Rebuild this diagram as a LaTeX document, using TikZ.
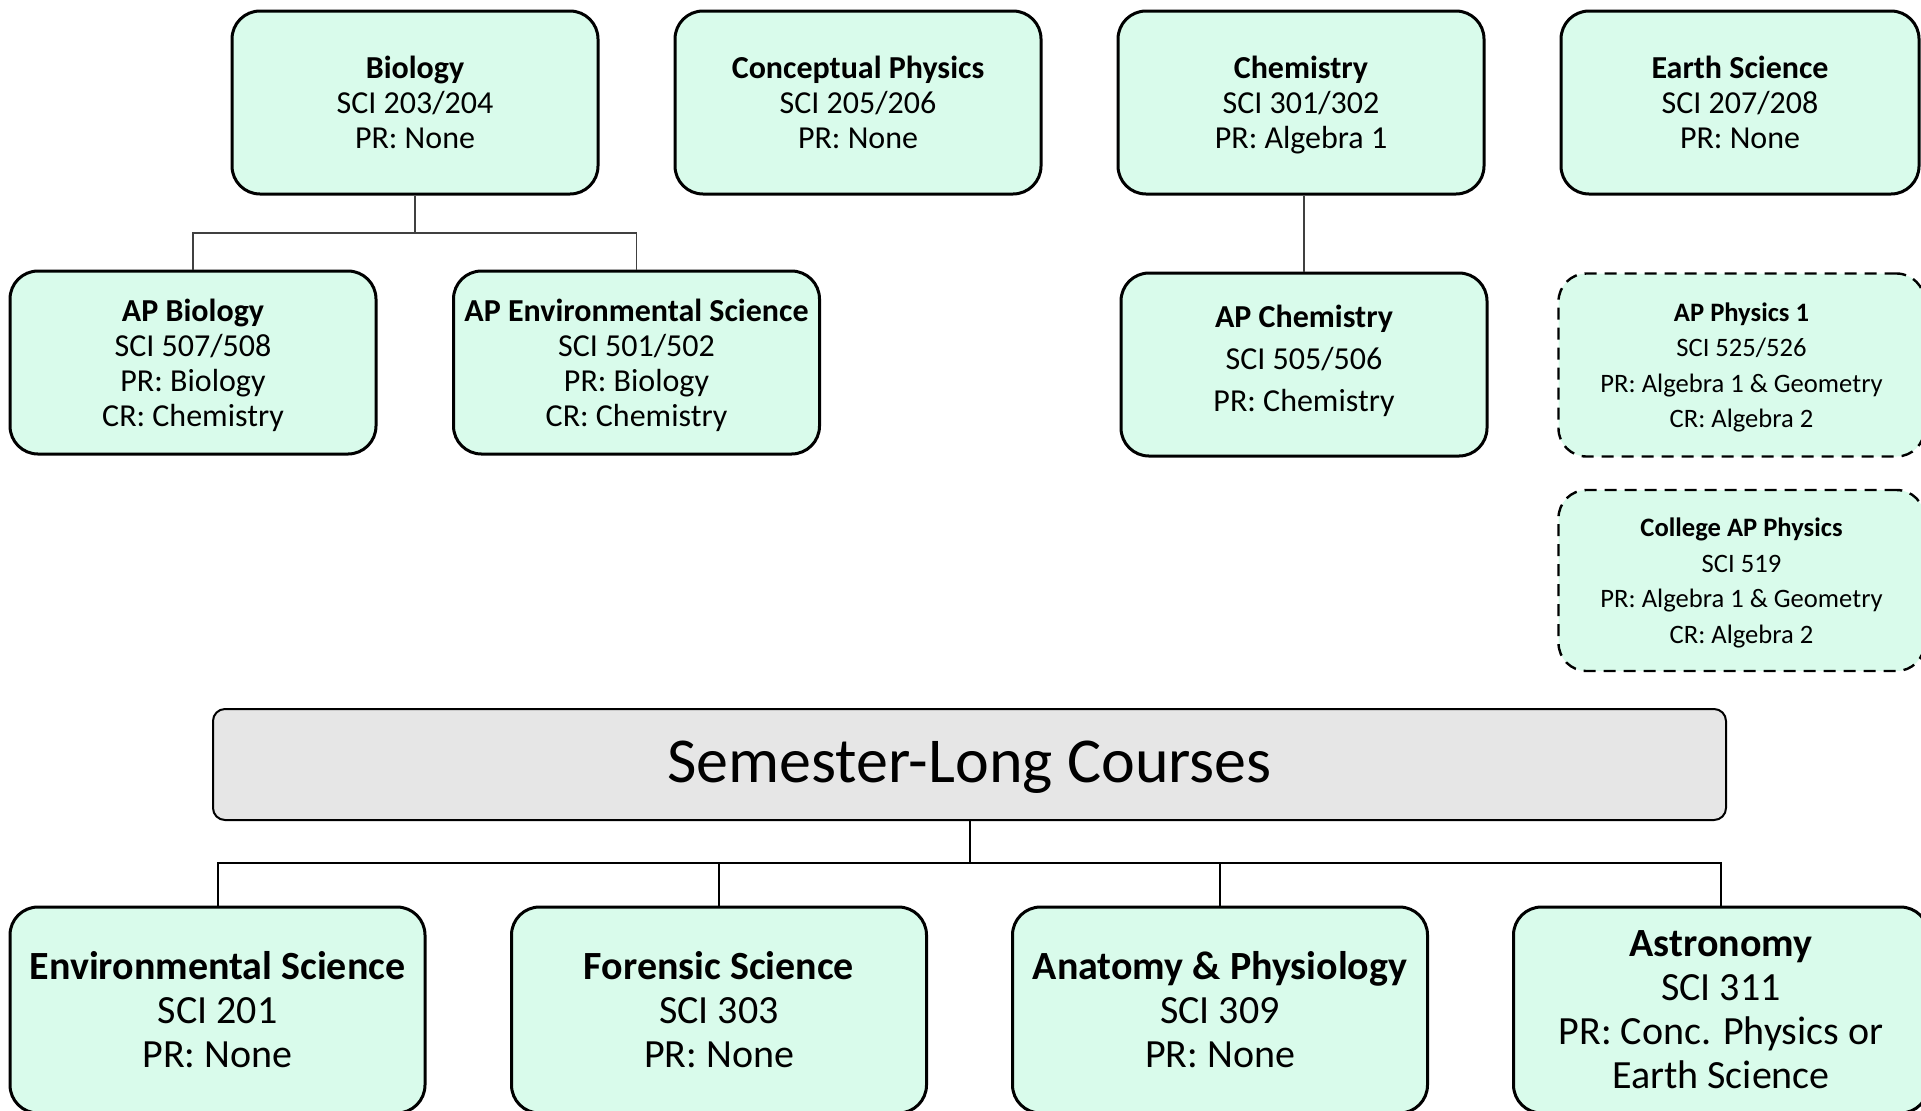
\documentclass[tikz,border=0pt]{standalone}
\usepackage{fontspec}
\setmainfont{Carlito}
\usetikzlibrary{positioning}

\definecolor{mintbox}{RGB}{217,251,235}
\definecolor{headgray}{RGB}{230,230,230}

\tikzset{
  course/.style={draw, line width=1.5pt, rounded corners=14pt, fill=mintbox,
    minimum width=183pt, minimum height=91.5pt, inner sep=1pt, align=center,
    execute at end node=\strut, text depth=0pt,
    font=\fontsize{16}{17.5}\selectfont},
  optional/.style={course, dash pattern=on 6pt off 4pt, line width=1.2pt,
    text depth=-3.3pt, font=\fontsize{13.3}{17.75}\selectfont},
  semcourse/.style={course, minimum width=207.5pt, minimum height=103pt,
    text depth=0.4pt, font=\fontsize{20}{22}\selectfont},
  header/.style={draw, line width=1pt, rounded corners=6pt, fill=headgray,
    minimum width=756.5pt, minimum height=55.5pt, text depth=3pt,
    font=\fontsize{32}{36}\selectfont},
  thinlink/.style={draw, line width=0.6pt, black!75},
  link/.style={draw, line width=1pt}
}

\begin{document}
\begin{tikzpicture}[x=0.5pt, y=-0.5pt]
  \useasboundingbox (0,0) rectangle (1921,1110);

  % year-long courses
  \node[course] (bio) at (415,102.5) {\textbf{Biology}\\SCI 203/204\\PR: None};
  \node[course] (cphys) at (858,102.5) {\textbf{Conceptual Physics}\\SCI 205/206\\PR: None};
  \node[course] (chem) at (1301,102.5) {\textbf{Chemistry}\\SCI 301/302\\PR: Algebra 1};
  \node[course, minimum width=179pt] (earth) at (1740,102.5) {\textbf{Earth Science}\\SCI 207/208\\PR: None};

  % AP courses
  \node[course] (apbio) at (193,362.5) {\textbf{AP Biology}\\SCI 507/508\\PR: Biology\\CR: Chemistry};
  \node[course] (apenv) at (636.5,362.5) {\textbf{AP Environmental Science}\\SCI 501/502\\PR: Biology\\CR: Chemistry};
  \node[course, text depth=6.3pt, font=\fontsize{16}{21}\selectfont] (apchem) at (1304,364.5) {\textbf{AP Chemistry}\\SCI 505/506\\PR: Chemistry};
  \node[optional] (apphys) at (1741.5,365) {\textbf{AP Physics 1}\\SCI 525/526\\PR: Algebra 1 \& Geometry\\CR: Algebra 2};
  \node[optional, minimum height=90.5pt] (colphys) at (1741.5,580.5) {\textbf{College AP Physics}\\SCI 519\\PR: Algebra 1 \& Geometry\\CR: Algebra 2};

  % semester-long courses
  \node[header] (sem) at (969.5,764.5) {Semester-Long Courses};
  \node[semcourse] (envsci) at (217.5,1010) {\textbf{Environmental Science}\\SCI 201\\PR: None};
  \node[semcourse] (foren) at (719,1010) {\textbf{Forensic Science}\\SCI 303\\PR: None};
  \node[semcourse] (anat) at (1220,1010) {\textbf{Anatomy \& Physiology}\\SCI 309\\PR: None};
  \node[semcourse] (astro) at (1721,1010) {\textbf{Astronomy}\\SCI 311\\PR: Conc. Physics or\\Earth Science};

  % prerequisite links
  \draw[thinlink] (bio.south) -- ++(0,37.5) coordinate (bioj);
  \draw[thinlink] (apbio.north) |- (bioj) -| (apenv.north);
  \draw[thinlink] (apchem.north) -- (apchem.north |- chem.south);

  \draw[link] (sem.south) -- ++(0,42) coordinate (semj);
  \foreach \c in {envsci, foren, anat, astro} {
    \draw[link] (semj) -| (\c.north);
  }
\end{tikzpicture}
\end{document}
